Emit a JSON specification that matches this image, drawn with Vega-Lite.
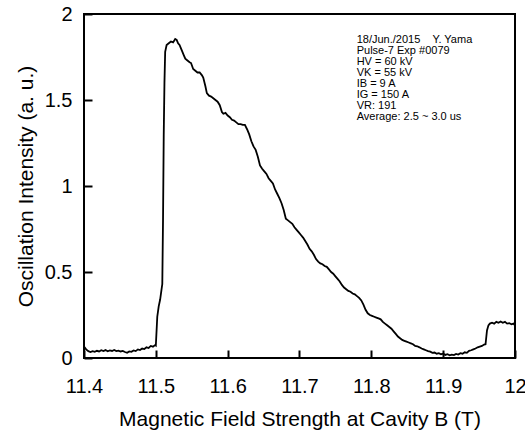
{
  "$schema": "https://vega.github.io/schema/vega-lite/v6.json",
  "autosize": {"type": "none"},
  "width": 431,
  "height": 344,
  "padding": {"left": 84, "top": 14, "right": 10, "bottom": 80},
  "background": "white",
  "config": {
    "view": {"stroke": "black", "strokeWidth": 2},
    "font": "Liberation Sans",
    "axis": {"labelColor": "black", "titleColor": "black", "labelFont": "Liberation Sans", "titleFont": "Liberation Sans", "grid": false,
      "ticks": true, "tickSize": -8, "tickWidth": 2, "tickColor": "black", "domain": false, "labelFontSize": 20, "labelFlush": false, "labelOverlap": false, "titleFontSize": 21, "titleFontWeight": "normal"},
    "axisX": {"labelPadding": 26, "titlePadding": 12},
    "axisY": {"labelPadding": 20, "titlePadding": 8}
  },
  "datasets": {
    "curve": [
      {"B": 11.400, "I": 0.066}, {"B": 11.403, "I": 0.050}, {"B": 11.406, "I": 0.040}, {"B": 11.409, "I": 0.035},
      {"B": 11.412, "I": 0.040}, {"B": 11.415, "I": 0.036}, {"B": 11.418, "I": 0.042}, {"B": 11.421, "I": 0.038},
      {"B": 11.424, "I": 0.045}, {"B": 11.427, "I": 0.040}, {"B": 11.430, "I": 0.046}, {"B": 11.433, "I": 0.039},
      {"B": 11.436, "I": 0.044}, {"B": 11.439, "I": 0.041}, {"B": 11.442, "I": 0.047}, {"B": 11.445, "I": 0.040},
      {"B": 11.448, "I": 0.043}, {"B": 11.451, "I": 0.038}, {"B": 11.454, "I": 0.041}, {"B": 11.457, "I": 0.035},
      {"B": 11.460, "I": 0.030}, {"B": 11.463, "I": 0.038}, {"B": 11.466, "I": 0.036}, {"B": 11.469, "I": 0.044},
      {"B": 11.472, "I": 0.040}, {"B": 11.475, "I": 0.050}, {"B": 11.478, "I": 0.046}, {"B": 11.481, "I": 0.055},
      {"B": 11.484, "I": 0.052}, {"B": 11.487, "I": 0.062}, {"B": 11.490, "I": 0.058}, {"B": 11.493, "I": 0.070},
      {"B": 11.496, "I": 0.066}, {"B": 11.499, "I": 0.075}, {"B": 11.500, "I": 0.072}, {"B": 11.502, "I": 0.24},
      {"B": 11.504, "I": 0.30}, {"B": 11.506, "I": 0.34}, {"B": 11.508, "I": 0.40}, {"B": 11.509, "I": 0.43},
      {"B": 11.510, "I": 0.80}, {"B": 11.511, "I": 1.30}, {"B": 11.512, "I": 1.60}, {"B": 11.513, "I": 1.78},
      {"B": 11.515, "I": 1.82}, {"B": 11.518, "I": 1.83}, {"B": 11.521, "I": 1.84}, {"B": 11.524, "I": 1.835},
      {"B": 11.527, "I": 1.855}, {"B": 11.529, "I": 1.85}, {"B": 11.531, "I": 1.83}, {"B": 11.533, "I": 1.82},
      {"B": 11.536, "I": 1.79}, {"B": 11.539, "I": 1.76}, {"B": 11.541, "I": 1.74}, {"B": 11.544, "I": 1.73},
      {"B": 11.547, "I": 1.72}, {"B": 11.549, "I": 1.715}, {"B": 11.552, "I": 1.68}, {"B": 11.555, "I": 1.67},
      {"B": 11.558, "I": 1.66}, {"B": 11.561, "I": 1.66}, {"B": 11.564, "I": 1.645}, {"B": 11.566, "I": 1.63},
      {"B": 11.569, "I": 1.58}, {"B": 11.571, "I": 1.54}, {"B": 11.574, "I": 1.525}, {"B": 11.577, "I": 1.52},
      {"B": 11.580, "I": 1.51}, {"B": 11.583, "I": 1.50}, {"B": 11.586, "I": 1.49}, {"B": 11.589, "I": 1.47},
      {"B": 11.592, "I": 1.43}, {"B": 11.594, "I": 1.42}, {"B": 11.597, "I": 1.425}, {"B": 11.600, "I": 1.41},
      {"B": 11.603, "I": 1.40}, {"B": 11.606, "I": 1.385}, {"B": 11.609, "I": 1.38}, {"B": 11.612, "I": 1.37},
      {"B": 11.615, "I": 1.36}, {"B": 11.618, "I": 1.36}, {"B": 11.621, "I": 1.355}, {"B": 11.624, "I": 1.355},
      {"B": 11.627, "I": 1.33}, {"B": 11.630, "I": 1.30}, {"B": 11.633, "I": 1.26}, {"B": 11.636, "I": 1.23},
      {"B": 11.639, "I": 1.21}, {"B": 11.642, "I": 1.17}, {"B": 11.645, "I": 1.12}, {"B": 11.648, "I": 1.10},
      {"B": 11.651, "I": 1.085}, {"B": 11.654, "I": 1.07}, {"B": 11.657, "I": 1.045}, {"B": 11.660, "I": 1.03},
      {"B": 11.663, "I": 1.015}, {"B": 11.666, "I": 0.98}, {"B": 11.669, "I": 0.955}, {"B": 11.672, "I": 0.93},
      {"B": 11.675, "I": 0.90}, {"B": 11.678, "I": 0.86}, {"B": 11.681, "I": 0.81}, {"B": 11.684, "I": 0.80},
      {"B": 11.687, "I": 0.79}, {"B": 11.690, "I": 0.78}, {"B": 11.693, "I": 0.76}, {"B": 11.696, "I": 0.745},
      {"B": 11.699, "I": 0.73}, {"B": 11.702, "I": 0.715}, {"B": 11.705, "I": 0.70}, {"B": 11.708, "I": 0.68},
      {"B": 11.711, "I": 0.66}, {"B": 11.714, "I": 0.635}, {"B": 11.717, "I": 0.62}, {"B": 11.720, "I": 0.60},
      {"B": 11.723, "I": 0.575}, {"B": 11.726, "I": 0.56}, {"B": 11.729, "I": 0.55}, {"B": 11.732, "I": 0.545},
      {"B": 11.735, "I": 0.535}, {"B": 11.738, "I": 0.53}, {"B": 11.741, "I": 0.515}, {"B": 11.744, "I": 0.50},
      {"B": 11.747, "I": 0.49}, {"B": 11.750, "I": 0.475}, {"B": 11.753, "I": 0.46}, {"B": 11.756, "I": 0.445},
      {"B": 11.759, "I": 0.425}, {"B": 11.762, "I": 0.41}, {"B": 11.765, "I": 0.40}, {"B": 11.768, "I": 0.39},
      {"B": 11.771, "I": 0.385}, {"B": 11.774, "I": 0.375}, {"B": 11.777, "I": 0.37}, {"B": 11.780, "I": 0.36},
      {"B": 11.783, "I": 0.35}, {"B": 11.786, "I": 0.335}, {"B": 11.789, "I": 0.31}, {"B": 11.792, "I": 0.28},
      {"B": 11.795, "I": 0.26}, {"B": 11.798, "I": 0.25}, {"B": 11.801, "I": 0.245}, {"B": 11.804, "I": 0.24},
      {"B": 11.807, "I": 0.235}, {"B": 11.810, "I": 0.23}, {"B": 11.813, "I": 0.225}, {"B": 11.816, "I": 0.21},
      {"B": 11.819, "I": 0.20}, {"B": 11.822, "I": 0.19}, {"B": 11.825, "I": 0.18}, {"B": 11.828, "I": 0.17},
      {"B": 11.831, "I": 0.155}, {"B": 11.834, "I": 0.14}, {"B": 11.837, "I": 0.125}, {"B": 11.840, "I": 0.115},
      {"B": 11.843, "I": 0.105}, {"B": 11.846, "I": 0.10}, {"B": 11.849, "I": 0.095}, {"B": 11.852, "I": 0.09},
      {"B": 11.855, "I": 0.085}, {"B": 11.858, "I": 0.08}, {"B": 11.861, "I": 0.07}, {"B": 11.864, "I": 0.068},
      {"B": 11.867, "I": 0.062}, {"B": 11.870, "I": 0.055}, {"B": 11.873, "I": 0.05}, {"B": 11.876, "I": 0.045},
      {"B": 11.879, "I": 0.04}, {"B": 11.882, "I": 0.037}, {"B": 11.885, "I": 0.03}, {"B": 11.888, "I": 0.032},
      {"B": 11.891, "I": 0.025}, {"B": 11.894, "I": 0.028}, {"B": 11.897, "I": 0.022}, {"B": 11.900, "I": 0.025},
      {"B": 11.903, "I": 0.018}, {"B": 11.906, "I": 0.022}, {"B": 11.909, "I": 0.016}, {"B": 11.912, "I": 0.02},
      {"B": 11.915, "I": 0.017}, {"B": 11.918, "I": 0.024}, {"B": 11.921, "I": 0.02}, {"B": 11.924, "I": 0.028},
      {"B": 11.927, "I": 0.025}, {"B": 11.930, "I": 0.033}, {"B": 11.933, "I": 0.03}, {"B": 11.936, "I": 0.042},
      {"B": 11.939, "I": 0.045}, {"B": 11.942, "I": 0.05}, {"B": 11.945, "I": 0.055}, {"B": 11.948, "I": 0.062},
      {"B": 11.951, "I": 0.066}, {"B": 11.954, "I": 0.07}, {"B": 11.957, "I": 0.078}, {"B": 11.959, "I": 0.08},
      {"B": 11.961, "I": 0.16}, {"B": 11.963, "I": 0.19}, {"B": 11.965, "I": 0.20}, {"B": 11.968, "I": 0.205},
      {"B": 11.971, "I": 0.20}, {"B": 11.974, "I": 0.21}, {"B": 11.977, "I": 0.205}, {"B": 11.980, "I": 0.212},
      {"B": 11.983, "I": 0.205}, {"B": 11.986, "I": 0.21}, {"B": 11.989, "I": 0.20}, {"B": 11.992, "I": 0.203},
      {"B": 11.995, "I": 0.196}, {"B": 11.998, "I": 0.20}, {"B": 12.000, "I": 0.19}
    ],
    "note": [{"note": "18/Jun./2015\u00a0\u00a0\u00a0\u00a0Y. Yama\nPulse-7 Exp #0079\nHV = 60 kV\nVK = 55 kV\nIB = 9 A\nIG = 150 A\nVR: 191\nAverage: 2.5 ~ 3.0 us"}]
  },
  "layer": [
    {
      "data": {"name": "curve"},
      "mark": {"type": "line", "color": "black", "strokeWidth": 1.8, "clip": true},
      "encoding": {
        "x": {"field": "B", "type": "quantitative", "scale": {"domain": [11.4, 12], "nice": false, "zero": false},
          "axis": {"values": [11.4, 11.5, 11.6, 11.7, 11.8, 11.9, 12], "format": "~g", "title": "Magnetic Field Strength at Cavity B (T)"}},
        "y": {"field": "I", "type": "quantitative", "scale": {"domain": [0, 2], "nice": false, "zero": false},
          "axis": {"values": [0, 0.5, 1, 1.5, 2], "format": "~g", "title": "Oscillation Intensity (a. u.)"}}
      }
    },
    {
      "data": {"name": "note"},
      "mark": {"type": "text", "lineBreak": "\n", "align": "left", "baseline": "alphabetic", "fontSize": 11, "lineHeight": 11.1, "font": "Liberation Sans", "color": "black"},
      "encoding": {
        "text": {"field": "note"},
        "x": {"datum": 11.7796, "type": "quantitative", "scale": {"domain": [11.4, 12], "nice": false, "zero": false},
          "axis": {"values": [11.4, 11.5, 11.6, 11.7, 11.8, 11.9, 12], "format": "~g", "title": "Magnetic Field Strength at Cavity B (T)"}},
        "y": {"datum": 1.833, "type": "quantitative", "scale": {"domain": [0, 2], "nice": false, "zero": false},
          "axis": {"values": [0, 0.5, 1, 1.5, 2], "format": "~g", "title": "Oscillation Intensity (a. u.)"}}
      }
    }
  ]
}
